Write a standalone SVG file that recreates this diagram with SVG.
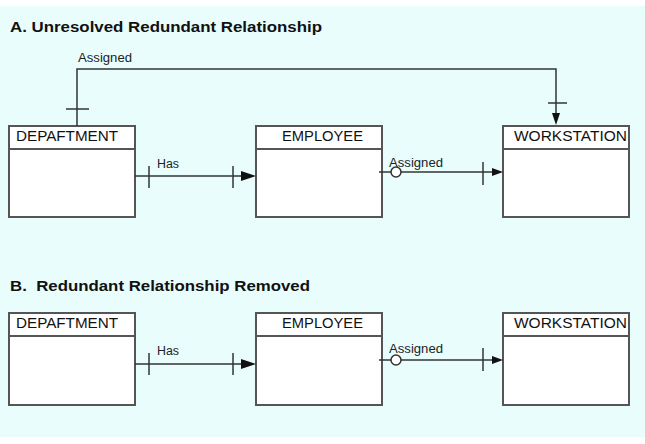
<svg xmlns="http://www.w3.org/2000/svg" width="645" height="444" viewBox="0 0 645 444">
<style>
.box{fill:#ffffff;stroke:#555555;stroke-width:2}
.div{stroke:#555555;stroke-width:2}
.ln{stroke:#333333;stroke-width:1.5;fill:none}
.ah{fill:#111111}
.hd{font-family:"Liberation Sans",Arial,sans-serif;font-size:14px;fill:#111111}
.lb{font-family:"Liberation Sans",Arial,sans-serif;font-size:12px;fill:#222222}
.tt{font-family:"Liberation Sans",Arial,sans-serif;font-size:14px;font-weight:bold;fill:#111111}
.op{fill:#ffffff;stroke:#333333;stroke-width:1.5}
</style>
<rect x="0" y="0" width="645" height="444" fill="#ffffff"/>
<rect x="0" y="6" width="645" height="431" fill="#e9fdfd"/>
<text class="tt" x="10" y="32" textLength="312" lengthAdjust="spacingAndGlyphs">A. Unresolved Redundant Relationship</text>
<text class="tt" x="10" y="291" textLength="300" lengthAdjust="spacingAndGlyphs" xml:space="preserve">B.  Redundant Relationship Removed</text>

<g id="a-department">
<rect class="box" x="9" y="126" width="126" height="91"/>
<line class="div" x1="9" y1="149" x2="135" y2="149"/>
<text class="hd" x="16" y="141" textLength="102" lengthAdjust="spacingAndGlyphs">DEPAFTMENT</text>
</g>
<g id="a-employee">
<rect class="box" x="256" y="126" width="126" height="91"/>
<line class="div" x1="256" y1="149" x2="382" y2="149"/>
<text class="hd" x="282" y="141" textLength="81" lengthAdjust="spacingAndGlyphs">EMPLOYEE</text>
</g>
<g id="a-workstation">
<rect class="box" x="503" y="126" width="126" height="91"/>
<line class="div" x1="503" y1="149" x2="629" y2="149"/>
<text class="hd" x="514" y="141" textLength="113" lengthAdjust="spacingAndGlyphs">WORKSTATION</text>
</g>

<g id="b-department">
<rect class="box" x="9" y="313" width="126" height="92"/>
<line class="div" x1="9" y1="336" x2="135" y2="336"/>
<text class="hd" x="16" y="328" textLength="102" lengthAdjust="spacingAndGlyphs">DEPAFTMENT</text>
</g>
<g id="b-employee">
<rect class="box" x="256" y="313" width="126" height="92"/>
<line class="div" x1="256" y1="336" x2="382" y2="336"/>
<text class="hd" x="282" y="328" textLength="81" lengthAdjust="spacingAndGlyphs">EMPLOYEE</text>
</g>
<g id="b-workstation">
<rect class="box" x="503" y="313" width="126" height="92"/>
<line class="div" x1="503" y1="336" x2="629" y2="336"/>
<text class="hd" x="514" y="328" textLength="113" lengthAdjust="spacingAndGlyphs">WORKSTATION</text>
</g>

<g id="connectors">
<!-- A: top Assigned -->
<polyline class="ln" points="77,126 77,69 556,69 556,114"/>
<line class="ln" x1="66" y1="109" x2="89" y2="109"/>
<line class="ln" x1="548" y1="103" x2="567" y2="103"/>
<polygon class="ah" points="552,113 560,113 556,125"/>
<text class="lb" x="78" y="62" textLength="54" lengthAdjust="spacingAndGlyphs">Assigned</text>
<!-- A: Has -->
<line class="ln" x1="135" y1="176" x2="242" y2="176"/>
<line class="ln" x1="149" y1="166" x2="149" y2="188"/>
<line class="ln" x1="233" y1="166" x2="233" y2="188"/>
<polygon class="ah" points="241,171 241,181 256,176"/>
<text class="lb" x="157" y="168" textLength="22" lengthAdjust="spacingAndGlyphs">Has</text>
<!-- A: Assigned -->
<line class="ln" x1="379" y1="172" x2="493" y2="172"/>
<circle class="op" cx="396" cy="172" r="5"/>
<line class="ln" x1="483" y1="162" x2="483" y2="185"/>
<polygon class="ah" points="492,168 492,176 503,172"/>
<text class="lb" x="389" y="167" textLength="54" lengthAdjust="spacingAndGlyphs">Assigned</text>
<!-- B: Has -->
<line class="ln" x1="135" y1="364" x2="242" y2="364"/>
<line class="ln" x1="149" y1="353" x2="149" y2="375"/>
<line class="ln" x1="233" y1="353" x2="233" y2="375"/>
<polygon class="ah" points="241,359 241,369 256,364"/>
<text class="lb" x="157" y="355" textLength="22" lengthAdjust="spacingAndGlyphs">Has</text>
<!-- B: Assigned -->
<line class="ln" x1="379" y1="360" x2="493" y2="360"/>
<circle class="op" cx="396" cy="360" r="5"/>
<line class="ln" x1="483" y1="348" x2="483" y2="371"/>
<polygon class="ah" points="492,356 492,364 503,360"/>
<text class="lb" x="389" y="353" textLength="54" lengthAdjust="spacingAndGlyphs">Assigned</text>
</g>
</svg>
